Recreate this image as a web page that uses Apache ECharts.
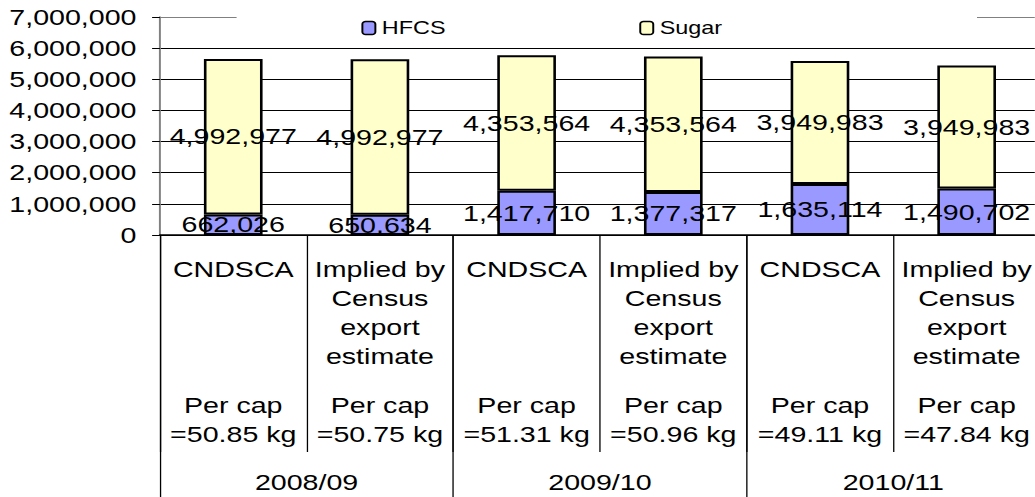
<!DOCTYPE html>
<html>
<head>
<meta charset="utf-8">
<script src="https://cdn.jsdelivr.net/npm/echarts@6/dist/echarts.min.js"></script>
<style>
  html, body { margin: 0; padding: 0; background: #fff; overflow: hidden; }
  /* the source chart has horizontally stretched text, so the whole chart is stretched */
  #main { width: 796px; height: 497px; transform: scaleX(1.3); transform-origin: 0 0; }
</style>
</head>
<body>
<div id="main"></div>
<script>
const categories = [
  "CNDSCA",
  "Implied by\nCensus\nexport\nestimate",
  "CNDSCA",
  "Implied by\nCensus\nexport\nestimate",
  "CNDSCA",
  "Implied by\nCensus\nexport\nestimate",
];
const perCap = ["=50.85 kg", "=50.75 kg", "=51.31 kg", "=50.96 kg", "=49.11 kg", "=47.84 kg"];
const years = ["2008/09", "2009/10", "2010/11"];
const hfcs = [662026, 650634, 1417710, 1377317, 1635114, 1490702];
const sugar = [4992977, 4992977, 4353564, 4353564, 3949983, 3949983];

const FONT = "Liberation Sans";
const fmt = (v) => Number(v).toLocaleString("en-US");

let myChart = echarts.init(document.getElementById("main"), null, { renderer: "svg" });
myChart.setOption({
  animation: false,
  backgroundColor: "#fff",
  textStyle: { fontFamily: FONT },
  legend: {
    left: 182,
    top: 3,
    padding: [16, 196, 9, 96],
    backgroundColor: "#fff",
    itemGap: 149,
    itemWidth: 10,
    itemHeight: 13,
    itemStyle: { borderColor: "#000", borderWidth: 1.5 },
    textStyle: { fontSize: 18, color: "#000", fontFamily: FONT },
    data: ["HFCS", "Sugar"],
  },
  grid: {
    left: 123,
    right: -4,
    top: 17,
    bottom: 262,
    containLabel: false,
    outerBoundsMode: "none",
  },
  xAxis: [
    {
      type: "category",
      data: categories,
      position: "bottom",
      axisLine: { lineStyle: { color: "#000", width: 1.5 } },
      axisTick: { show: true, interval: 0, length: 217, lineStyle: { color: "#000", width: 1 } },
      axisLabel: {
        interval: 0,
        margin: 20,
        color: "#000",
        formatter: (value, index) => {
          let lines = value.split("\n");
          while (lines.length < 4) lines.push(" ");
          return (
            lines.map((l) => "{a|" + l + "}").join("\n") +
            "\n{g| }\n{a|Per cap}\n{a|" + perCap[index] + "}"
          );
        },
        rich: {
          a: { fontSize: 22, lineHeight: 29, color: "#000", fontFamily: FONT },
          g: { fontSize: 10, lineHeight: 20 },
        },
      },
      splitLine: { show: false },
    },
    {
      type: "category",
      data: years,
      position: "bottom",
      offset: 0,
      axisLine: { show: false },
      axisTick: { show: true, interval: 0, length: 262, lineStyle: { color: "#000", width: 1 } },
      axisLabel: { interval: 0, margin: 236, fontSize: 22, color: "#000", fontFamily: FONT },
      splitLine: { show: false },
    },
  ],
  yAxis: {
    type: "value",
    min: 0,
    max: 7000000,
    interval: 1000000,
    axisLine: { show: true, lineStyle: { color: "#808080", width: 1.5 } },
    axisTick: { show: true, length: 6, lineStyle: { color: "#000" } },
    axisLabel: { margin: 18, fontSize: 22, color: "#000", fontFamily: FONT, formatter: fmt },
    splitLine: {
      show: true,
      lineStyle: {
        color: ["#000", "#000", "#000", "#000", "#000", "#000", "#000", "#808080"],
        width: 1,
      },
    },
  },
  series: [
    {
      name: "HFCS",
      type: "bar",
      stack: "total",
      barWidth: "40%",
      data: hfcs,
      itemStyle: { color: "#9999FF", borderColor: "#000", borderWidth: 2 },
      label: {
        show: true,
        position: "inside",
        color: "#000",
        fontSize: 22,
        fontFamily: FONT,
        textBorderWidth: 0,
        formatter: (p) => fmt(p.value),
      },
    },
    {
      name: "Sugar",
      type: "bar",
      stack: "total",
      barWidth: "40%",
      data: sugar,
      itemStyle: { color: "#FFFFCC", borderColor: "#000", borderWidth: 2 },
      label: {
        show: true,
        position: "inside",
        color: "#000",
        fontSize: 22,
        fontFamily: FONT,
        textBorderWidth: 0,
        formatter: (p) => fmt(p.value),
      },
    },
  ],
});
</script>
</body>
</html>
